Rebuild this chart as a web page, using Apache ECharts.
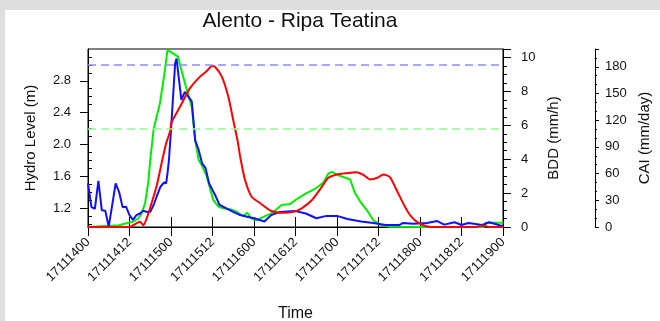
<!DOCTYPE html>
<html>
<head>
<meta charset="utf-8">
<script src="https://cdn.jsdelivr.net/npm/echarts@6/dist/echarts.min.js"></script>
<style>
  html, body { margin: 0; padding: 0; background: #dedede; }
  #panel { position: absolute; left: 5px; top: 10px; right: 0; bottom: 0; background: #fff; }
  #chart { position: absolute; left: 0; top: 0; width: 660px; height: 321px; }
</style>
</head>
<body>
<div id="panel"></div>
<div id="chart"></div>
<script>
// tick labels on the time axis, one every 12 hours (yymmddhh)
var timeLabels = ['17111400', '17111412', '17111500', '17111512', '17111600', '17111612',
  '17111700', '17111712', '17111800', '17111812', '17111900'];

// hydrometric level (m), blue - hours since 17111400
var levelHours = [0, 1, 2, 3, 4, 5, 6, 8, 9, 10, 11, 12, 13, 14, 15, 16, 17, 18, 19, 20, 21, 22, 22.6, 23, 23.4,
  24, 25.2, 25.6, 27, 28, 29, 30, 31, 32, 33, 34, 35, 37, 38, 40, 42, 44, 46, 48, 51, 53, 55.5, 60, 63, 66,
  69, 72, 75, 79, 82.5, 86, 90, 91, 94, 98, 101, 103, 106, 108, 110, 114, 116, 120];
var level = [1.51, 1.21, 1.19, 1.54, 1.17, 1.165, 0.964, 1.51, 1.40, 1.21, 1.215, 1.11, 1.05, 1.11, 1.13, 1.165,
  1.15, 1.15, 1.24, 1.36, 1.47, 1.52, 1.51, 1.64, 1.80, 2.18, 3.02, 3.08, 2.56, 2.66, 2.60, 2.54, 2.05, 1.93,
  1.76, 1.70, 1.51, 1.34, 1.24, 1.195, 1.15, 1.11, 1.09, 1.07, 1.03, 1.11, 1.15, 1.16, 1.13, 1.07, 1.10, 1.10,
  1.06, 1.03, 1.01, 0.985, 0.985, 1.01, 1.0, 1.01, 1.035, 0.99, 1.02, 0.985, 1.01, 0.985, 1.02, 0.97];

// BDD (mm/h), green
var bddHours = [0, 9, 11.7, 13, 14.5, 15.5, 16.5, 17.4, 18.1, 19, 20.8, 22, 23, 23.5, 25.2, 26, 28, 30, 31, 32,
  33, 34.3, 36.2, 37.7, 39, 41, 43, 44, 45, 46, 47.3, 48.8, 50.7, 53, 56, 58.4, 60.4, 62.8, 66, 68, 69.5,
  70.5, 72.4, 75.8, 77.2, 78.7, 80.6, 82.5, 84.4, 87.3, 100, 114.5, 115, 120];
var bdd = [0, 0.1, 0.25, 0.31, 0.5, 0.8, 1.4, 2.6, 4.15, 5.8, 7.3, 8.9, 10.45, 10.45, 10.15, 10.05, 8.5, 7.1,
  5.1, 3.95, 3.6, 3.0, 1.6, 1.2, 1.1, 1.05, 0.9, 0.75, 0.65, 0.85, 0.5, 0.4, 0.6, 0.8, 1.3, 1.35, 1.65, 1.95,
  2.3, 2.6, 3.15, 3.25, 3.05, 2.8, 2.0, 1.5, 1.0, 0.4, 0.15, 0.02, 0, 0, 0.25, 0.25];

// CAI (mm/day), red
var caiHours = [0, 12, 14, 15, 16, 17, 18.4, 19.9, 21.3, 22.6, 23.7, 24.2, 26.6, 29.5, 32.4, 34.3, 35.8, 36.7,
  38.7, 40.6, 42, 43.2, 44, 45.4, 47.3, 49.7, 53, 56.5, 59.4, 61.8, 64.7, 67.6, 69.4, 71.9, 74.8, 77.7, 79.6,
  81.5, 83.5, 85.4, 87.3, 89.3, 91.2, 93.1, 95, 97, 99, 112, 114, 116, 120];
var cai = [0, 0, 4, 6, 2, 10, 27, 47, 72, 94, 107, 118, 135, 156, 169, 175, 181, 180, 169, 146, 120, 98, 79, 53,
  34, 27, 18, 16, 17, 21, 30, 45, 55, 59, 60.5, 61.5, 58.5, 53.5, 55, 59, 56, 41, 26, 13.5, 6, 2, 0, 0, 1.5,
  0, 0];

// alert thresholds on the hydro level (m)
var thresholdValues = [3.0, 2.2];
var thresholdColors = ['#8c8cff', '#8cff8c'];

var levelTicks = [1.2, 1.6, 2.0, 2.4, 2.8];
var levelMinorTicks = [1.0, 1.1, 1.3, 1.4, 1.5, 1.7, 1.8, 1.9, 2.1, 2.2, 2.3, 2.5, 2.6, 2.7, 2.9, 3.0, 3.1];

function pairs(xs, ys) {
  return xs.map(function (x, i) { return [x, ys[i]]; });
}

var font = 'Liberation Sans, Helvetica, Arial, sans-serif';
var ink = '#111';

var chart = echarts.init(document.getElementById('chart'));

var option = {
  animation: false,
  textStyle: { fontFamily: font },
  title: {
    text: 'Alento - Ripa Teatina',
    left: 295,
    top: 6,
    textAlign: 'center',
    textStyle: { fontFamily: font, fontSize: 21, fontWeight: 'normal', color: ink }
  },
  grid: {
    left: 88, right: 157, top: 49, bottom: 94,
    containLabel: false,
    outerBoundsMode: 'none',
    show: true, borderColor: '#000', borderWidth: 1
  },
  xAxis: [{
    type: 'value',
    min: 0, max: 120, interval: 12,
    name: 'Time',
    nameLocation: 'middle',
    nameGap: 79,
    nameTextStyle: { fontSize: 16, color: ink, fontFamily: font },
    axisLine: { lineStyle: { color: '#000', width: 1 } },
    axisTick: { length: 9, lineStyle: { color: '#000' } },
    axisLabel: {
      rotate: 45, margin: 13, fontSize: 13, color: ink, fontFamily: font,
      showMinLabel: true, showMaxLabel: true,
      formatter: function (v) { return timeLabels[Math.round(v / 12)]; }
    },
    splitLine: { show: false }
  }, {
    type: 'value',
    position: 'top',
    min: 0, max: 120, interval: 12,
    axisLine: { lineStyle: { color: '#000', width: 1 } },
    axisTick: { length: 10, lineStyle: { color: '#000' } },
    axisLabel: { show: false },
    splitLine: { show: false }
  }],
  yAxis: [{
    type: 'value',
    min: 0.96, max: 3.2,
    name: 'Hydro Level (m)',
    nameLocation: 'middle',
    nameGap: 50,
    nameTextStyle: { fontSize: 15, color: ink, fontFamily: font },
    axisLine: { show: true, lineStyle: { color: '#000' } },
    axisTick: { length: 8, customValues: levelTicks, lineStyle: { color: '#000' } },
    axisLabel: {
      customValues: levelTicks, margin: 17, fontSize: 13, color: ink, fontFamily: font,
      formatter: function (v) { return v.toFixed(1); }
    },
    splitLine: { show: false }
  }, {
    type: 'value',
    min: 0.96, max: 3.2,
    axisLine: { show: false },
    axisTick: { show: true, length: 4, customValues: levelMinorTicks, lineStyle: { color: '#000' } },
    axisLabel: { show: false },
    splitLine: { show: false }
  }, {
    type: 'value',
    position: 'right',
    min: 0, max: 10.5, interval: 2,
    name: 'BDD (mm/h)',
    nameLocation: 'middle',
    nameGap: 42,
    nameTextStyle: { fontSize: 15, color: ink, fontFamily: font },
    axisLine: { show: true, lineStyle: { color: '#000' } },
    axisTick: { length: 8, lineStyle: { color: '#000' } },
    minorTick: { show: true, splitNumber: 4, length: 4, lineStyle: { color: '#000' } },
    axisLabel: { margin: 18, fontSize: 13, color: ink, fontFamily: font },
    splitLine: { show: false }
  }, {
    type: 'value',
    position: 'right',
    offset: 92,
    min: 0, max: 200, interval: 30,
    name: 'CAI (mm/day)',
    nameLocation: 'middle',
    nameGap: 42,
    nameTextStyle: { fontSize: 15, color: ink, fontFamily: font },
    axisLine: { show: true, lineStyle: { color: '#000' } },
    axisTick: { length: 4, lineStyle: { color: '#000' } },
    minorTick: { show: true, splitNumber: 3, length: 2, lineStyle: { color: '#000' } },
    axisLabel: {
      margin: 10, fontSize: 13, color: ink, fontFamily: font,
      formatter: function (v) { return v > 180 ? '' : v; }
    },
    splitLine: { show: false }
  }],
  series: [{
    name: 'BDD',
    type: 'line',
    yAxisIndex: 2,
    data: pairs(bddHours, bdd),
    showSymbol: false,
    color: '#00ee00',
    lineStyle: { width: 2 },
    z: 2
  }, {
    name: 'Hydro Level',
    type: 'line',
    yAxisIndex: 0,
    data: pairs(levelHours, level),
    showSymbol: false,
    color: '#1010ff',
    lineStyle: { width: 2 },
    z: 3,
    markLine: {
      silent: true,
      symbol: 'none',
      label: { show: false },
      data: thresholdValues.map(function (v, i) {
        return { yAxis: v, lineStyle: { color: thresholdColors[i], type: [8, 5], width: 1.5 } };
      })
    }
  }, {
    name: 'CAI',
    type: 'line',
    yAxisIndex: 3,
    data: pairs(caiHours, cai),
    showSymbol: false,
    smooth: 0.2,
    color: '#ff0000',
    lineStyle: { width: 2 },
    z: 4
  }]
};

chart.setOption(option);
</script>
</body>
</html>
